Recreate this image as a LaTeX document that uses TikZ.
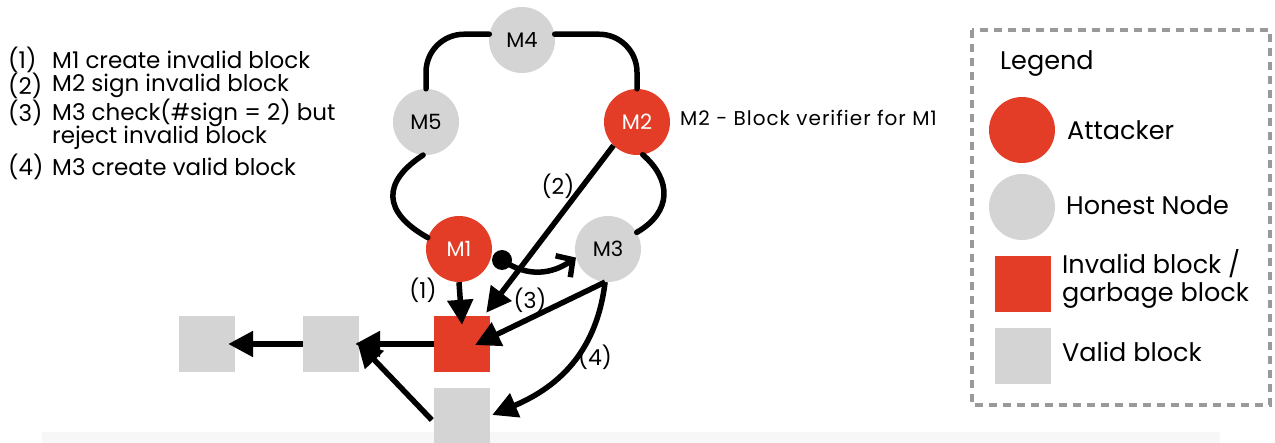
\documentclass[tikz,border=0pt]{standalone}
\usepackage{fontspec}
\setmainfont{Poppins}
\usetikzlibrary{arrows.meta,calc}
\definecolor{atk}{RGB}{228,61,39}
\definecolor{hon}{RGB}{212,212,212}
\definecolor{lgd}{RGB}{154,154,154}
\definecolor{band}{RGB}{247,247,247}
\tikzset{
  mnode/.style={circle,minimum size=66pt,inner sep=0pt,font=\fontsize{21}{24}\selectfont},
  attacker/.style={mnode,fill=atk,text=white},
  honest/.style={mnode,fill=hon,text=black},
  blk/.style={minimum size=56pt,inner sep=0pt},
  badblk/.style={blk,fill=atk},
  goodblk/.style={blk,fill=hon},
  ring/.style={line width=5.5pt,line cap=round},
  arr/.style={line width=5.5pt,-{Triangle[length=25pt,width=25pt]}},
  lbl/.style={font=\fontsize{22}{24}\selectfont,inner sep=0pt},
  txt/.style={font=\fontsize{23}{25}\selectfont,inner sep=0pt,anchor=west},
  ltxt/.style={font=\fontsize{25.5}{28}\selectfont,inner sep=0pt,anchor=west,align=left},
}
\begin{document}
\begin{tikzpicture}[x=1pt,y=-1pt]
\useasboundingbox (0,0) rectangle (1275,443);
\fill[band] (42,432) rectangle (1220,443);
% ring nodes
\node[honest] (M4) at (522,40) {M4};
\node[honest] (M5) at (426,122) {M5};
\node[attacker] (M2) at (637,122) {M2};
\node[attacker] (M1) at (459,249) {M1};
\node[honest] (M3) at (608,249) {M3};
\node[txt,font=\fontsize{20}{22}\selectfont\addfontfeatures{LetterSpace=5}] (m2note) at (680,118) {M2 - Block verifier for M1};
% ring
\draw[ring,rounded corners=38pt] (M4.170) -| (M5.north);
\draw[ring,rounded corners=38pt] (M4.10) -| (M2.north);
\draw[ring] (M5.-95) .. controls (382,182) and (382,212) .. (M1.160);
\draw[ring] (M2.-80) .. controls (672,180) and (672,212) .. (M3.30);
% blocks
\node[badblk] (red) at (462,344) {};
\node[goodblk] (vb2) at (331,344) {};
\node[goodblk] (vb1) at (207,344) {};
\node[goodblk] (vb3) at (462,416) {};
% dot arrow
\coordinate (d) at (502,260);
\fill (d) circle (10pt);
\draw[line width=5.5pt,-{Straight Barb[length=12pt,width=26pt,line width=5.5pt]}] (d) .. controls (528,278) and (552,274) .. (M3.195);
% arrows
\draw[arr] (M1.south) -- ($(red.north)+(0,9)$);
\draw[arr] (M2.225) -- ($(red.north east)+(-4,-3)$);
\draw[arr] (M3.-95) -- ($(red.center)+(13,1)$);
\draw[arr] (M3.-95) .. controls (598,340) and (570,382) .. ($(vb3.east)+(2,-1)$);
\draw[arr] (red.west) -- ($(vb2.east)+(-4,0)$);
\draw[arr] (vb2.west) -- ($(vb1.east)+(-7,0)$);
\draw[arr] ($(vb3.west)+(-2,4)$) -- ($(vb2.east)+(-2,-2)$);
% labels
\node[lbl] (l1) at (423,290) {(1)};
\node[lbl] (l2) at (558,186) {(2)};
\node[lbl] (l3) at (530,300) {(3)};
\node[lbl] (l4) at (595,357) {(4)};
% left list
\node[txt] (n1) at (8,60) {(1)};
\node[txt] (t1) at (52,60) {M1 create invalid block};
\node[txt] (n2) at (8,86) {(2)};
\node[txt] (t2) at (52,86) {M2 sign invalid block};
\node[txt] (n3) at (8,113) {(3)};
\node[txt] (t3) at (52,113) {M3 check(\#sign = 2) but};
\node[txt] (t3b) at (52,138) {reject invalid block};
\node[txt] (n4) at (8,167) {(4)};
\node[txt] (t4) at (52,167) {M3 create valid block};
% legend
\draw[lgd,line width=4pt,dash pattern=on 8pt off 6pt] (972,30) rectangle (1270,405);
\node[ltxt] (lg) at (1000,64) {Legend};
\node[attacker] (la) at (1022,130) {};
\node[ltxt] (lat) at (1067,130) {Attacker};
\node[honest] (lh) at (1022,207) {};
\node[ltxt] (lht) at (1066,205) {Honest Node};
\node[badblk] (lb) at (1023,284) {};
\node[ltxt] (lbt) at (1062,279) {Invalid block /\\garbage block};
\node[goodblk] (lv) at (1023,356) {};
\node[ltxt] (lvt) at (1062,352) {Valid block};
\end{tikzpicture}
\end{document}
